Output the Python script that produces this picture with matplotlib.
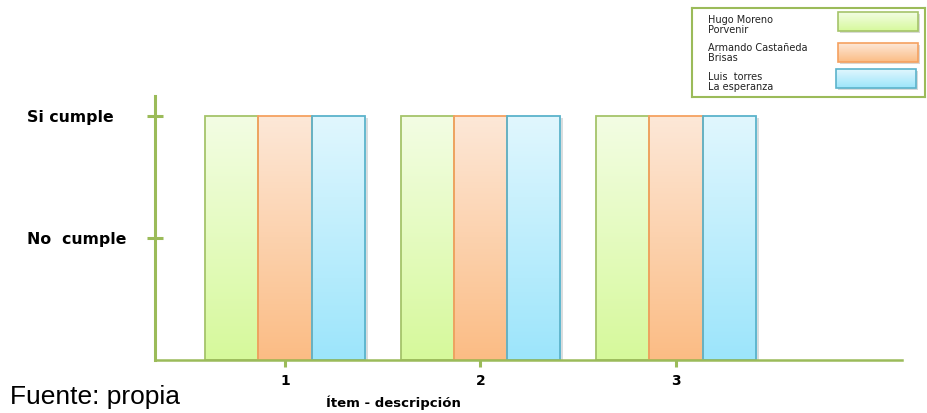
import numpy as np
import matplotlib.pyplot as plt
import matplotlib.patheffects as pe
from matplotlib.colors import to_rgb

# items on the x axis and the result for each school (1 = no cumple, 2 = si cumple)
items = [1, 2, 3]
series = ["Hugo Moreno\nPorvenir", "Armando Castañeda\nBrisas", "Luis  torres\nLa esperanza"]
hugo_moreno = [2, 2, 2]
armando_castaneda = [2, 2, 2]
luis_torres = [2, 2, 2]
y_levels = [1, 2]
y_labels = ["No  cumple", "Si cumple"]

values = [hugo_moreno, armando_castaneda, luis_torres]
tops = ["#f3fde4", "#fde8d8", "#e1f7fe"]
bottoms = ["#d6f99b", "#fbbc84", "#9ce5fb"]
edges = ["#a5c46a", "#f5a160", "#5bb3cb"]
axis_green = "#9bbb59"


def gradient(top, bottom, n=256):
    t = np.linspace(0, 1, n)[:, None]
    return (1 - t) * np.array(to_rgb(top)) + t * np.array(to_rgb(bottom))


def fill_gradient(ax, patch, top, bottom):
    x0, y0 = patch.get_x(), patch.get_y()
    w, h = patch.get_width(), patch.get_height()
    img = gradient(top, bottom)[:, None, :]
    im = ax.imshow(img, extent=(x0, x0 + w, y0, y0 + h), origin="upper",
                   aspect="auto", zorder=patch.get_zorder() + 0.1)
    im.set_clip_path(patch)


fig = plt.figure(figsize=(9.28, 4.13), dpi=100)
ax = fig.add_axes([0.167, 0.1283, 0.805, 0.6392])

width = 0.272
x = np.array(items, dtype=float)
shadow = [pe.SimplePatchShadow(offset=(2, -2), alpha=0.18), pe.Normal()]
for k, vals in enumerate(values):
    bars = ax.bar(x + (k - 1) * width, vals, width, color=bottoms[k],
                  edgecolor="none", zorder=2)
    for b in bars:
        b.set_path_effects(shadow)
        fill_gradient(ax, b, tops[k], bottoms[k])
    ax.bar(x + (k - 1) * width, vals, width, fill=False,
           edgecolor=edges[k], linewidth=1.3, zorder=3)

ax.set_xlim(0.335, 4.156)
ax.set_ylim(0, 2.16)

for side in ["top", "right"]:
    ax.spines[side].set_visible(False)
for side in ["left", "bottom"]:
    ax.spines[side].set_color(axis_green)
    ax.spines[side].set_linewidth(2.2)
    ax.spines[side].set_zorder(4)
ax.spines["bottom"].set_linewidth(1.8)

ax.set_xticks(items, [str(i) for i in items])
ax.set_yticks(y_levels, y_labels)
ax.tick_params(axis="y", direction="inout", length=12, width=2.2,
               color=axis_green, pad=86.5, labelsize=11.3)
ax.tick_params(axis="x", direction="inout", length=10, width=2.2,
               color=axis_green, pad=5, labelsize=10)
for lab in ax.get_yticklabels():
    lab.set_ha("left")
    lab.set_fontweight("bold")
for lab in ax.get_xticklabels():
    lab.set_fontweight("bold")

ax.set_xlabel("Ítem - descripción", fontsize=9.5, fontweight="bold")
ax.xaxis.set_label_coords((393 - 155) / 747, -0.135)

fig.text(10 / 928, 9 / 413, "Fuente: propia", family="Liberation Sans",
         fontsize=19, va="baseline", ha="left")

# legend box with gradient swatches
lg = fig.add_axes([692 / 928, 1 - 97 / 413, 233 / 928, 89 / 413])
lg.set_xlim(0, 233)
lg.set_ylim(89, 0)
lg.set_xticks([])
lg.set_yticks([])
for s in lg.spines.values():
    s.set_color(axis_green)
    s.set_linewidth(1.5)

sw_x = [146, 146, 144]
sw_y = [4, 35, 61]
txt_y = [17, 45, 74]
for k, name in enumerate(series):
    rect = plt.Rectangle((sw_x[k], sw_y[k]), 80, 19, facecolor=bottoms[k],
                         edgecolor="none", zorder=2)
    rect.set_path_effects([pe.SimplePatchShadow(offset=(1.5, -1.5), alpha=0.2),
                           pe.Normal()])
    lg.add_patch(rect)
    img = gradient(tops[k], bottoms[k])[:, None, :]
    im = lg.imshow(img, extent=(sw_x[k], sw_x[k] + 80, sw_y[k] + 19, sw_y[k]),
                   origin="upper", aspect="auto", zorder=2.1)
    im.set_clip_path(rect)
    lg.add_patch(plt.Rectangle((sw_x[k], sw_y[k]), 80, 19, fill=False,
                               edgecolor=edges[k], linewidth=1.2, zorder=3))
    lg.text(16, txt_y[k], name, fontsize=7, va="center", ha="left",
            linespacing=0.9, color="#222222")

fig.savefig("out.png", dpi=100)
